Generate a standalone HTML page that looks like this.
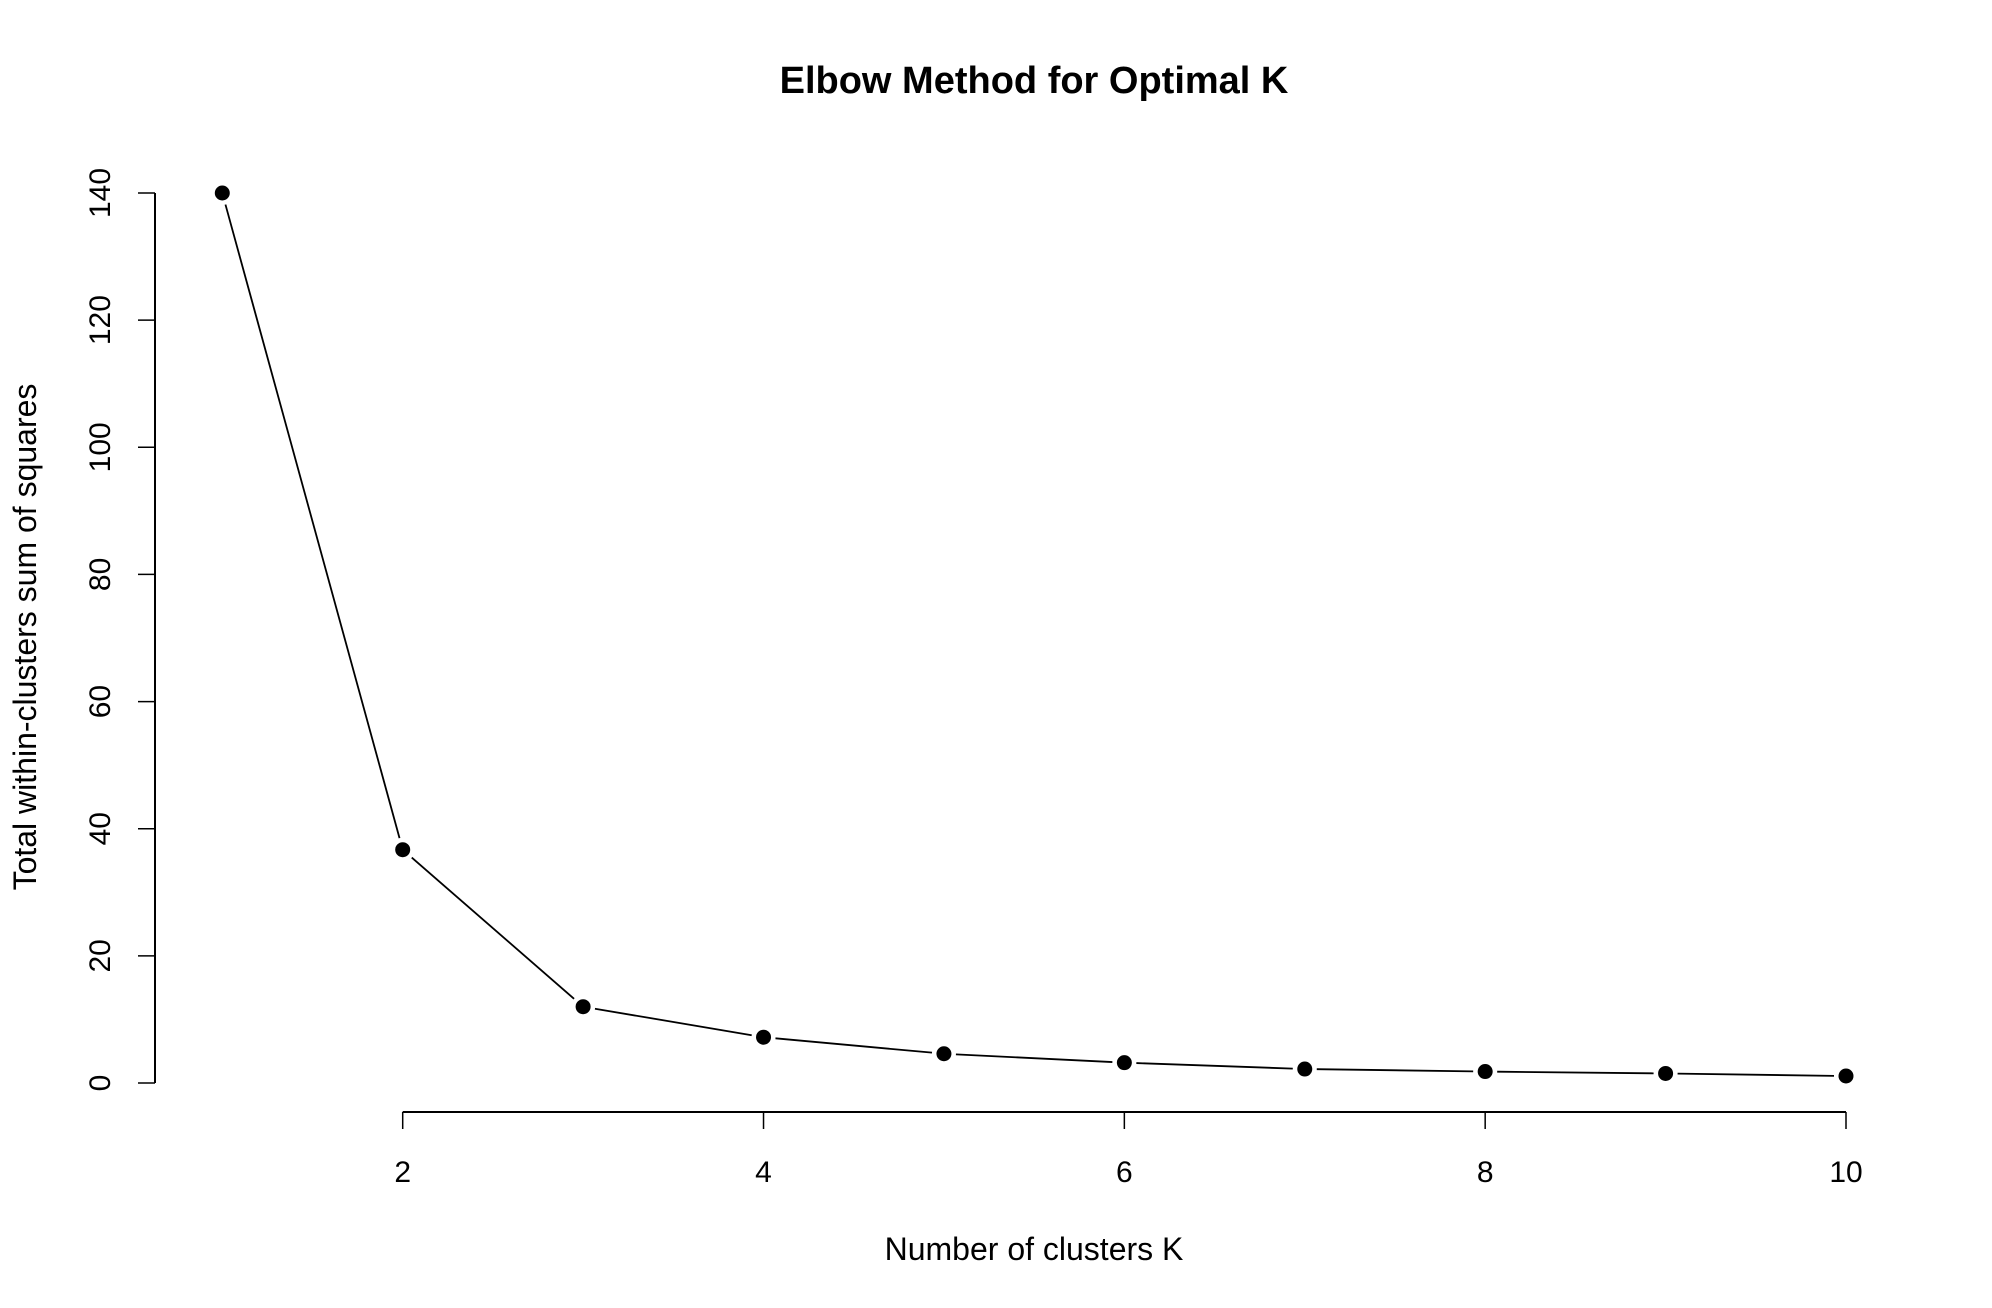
<!DOCTYPE html>
<html><head><meta charset="utf-8"><style>
html,body{margin:0;padding:0;background:#fff;}
svg{display:block;font-family:"Liberation Sans",Arial,sans-serif;}
</style></head><body>
<svg id="chart" width="1992" height="1308" viewBox="0 0 1992 1308" xmlns="http://www.w3.org/2000/svg">
<rect width="1992" height="1308" fill="#fff"/>
<text x="1034" y="93" text-anchor="middle" font-size="38" font-weight="bold">Elbow Method for Optimal K</text>
<text x="1034" y="1260" text-anchor="middle" font-size="32">Number of clusters K</text>
<text transform="translate(36,637) rotate(-90)" text-anchor="middle" font-size="32">Total within-clusters sum of squares</text>
<g id="axes"></g>
<g id="marks"></g>
</svg>
<script>
const kValues=[1,2,3,4,5,6,7,8,9,10];
const wssValues=[140,36.7,12,7.2,4.6,3.2,2.2,1.8,1.5,1.1];
const xTicks=[2,4,6,8,10];
const yTicks=[0,20,40,60,80,100,120,140];
const NS="http://www.w3.org/2000/svg";
function xs(v){return 402.7+(v-2)*(1846-402.7)/8;}
function ys(v){return 1083-v*(1083-193)/140;}
function mk(tag,attrs,parent){const e=document.createElementNS(NS,tag);for(const k in attrs)e.setAttribute(k,attrs[k]);parent.appendChild(e);return e;}
const axes=document.getElementById('axes');
const marks=document.getElementById('marks');
const xl=mk('line',{x1:xs(2),x2:xs(10),y1:1112,y2:1112,stroke:'#000','stroke-width':2},axes);


xTicks.forEach(t=>{
  const l=mk('line',{x1:xs(t),x2:xs(t),y1:1112,y2:1129,stroke:'#000','stroke-width':1.5},axes);
  
  
  const tx=mk('text',{x:xs(t),y:1182,'text-anchor':'middle','font-size':30},axes);
  tx.textContent=t;
  
  
});
const yl=mk('line',{x1:155,x2:155,y1:ys(140),y2:ys(0),stroke:'#000','stroke-width':2},axes);


yTicks.forEach(t=>{
  const l=mk('line',{x1:138,x2:155,y1:ys(t),y2:ys(t),stroke:'#000','stroke-width':1.5},axes);
  
  
  const tx=mk('text',{transform:`translate(110,${ys(t)}) rotate(-90)`,'text-anchor':'middle','font-size':30},axes);
  tx.textContent=t;
  
  
});
const gap=12;
for(let i=0;i<kValues.length-1;i++){
  const x1=xs(kValues[i]),y1=ys(wssValues[i]),x2=xs(kValues[i+1]),y2=ys(wssValues[i+1]);
  const dx=x2-x1,dy=y2-y1,d=Math.hypot(dx,dy);
  if(d<=2*gap)continue;
  const ux=dx/d,uy=dy/d;
  const s=mk('line',{x1:x1+ux*gap,y1:y1+uy*gap,x2:x2-ux*gap,y2:y2-uy*gap,stroke:'#000','stroke-width':1.8},marks);
  
  
}
kValues.forEach((k,i)=>{
  const c=mk('circle',{cx:xs(k),cy:ys(wssValues[i]),r:7.5,fill:'#000'},marks);
  
  
});
</script>
</body></html>
